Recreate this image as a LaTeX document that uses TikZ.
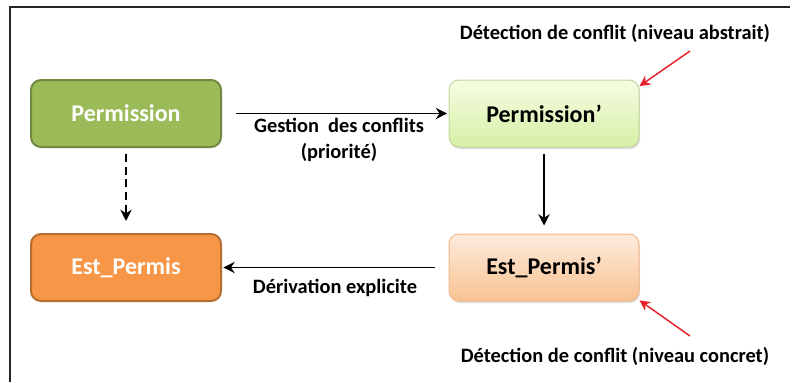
\documentclass[tikz,border=0pt]{standalone}
\usepackage{fontspec}
\setmainfont{Carlito}
\usetikzlibrary{arrows.meta,shadows}
\definecolor{vertfonce}{HTML}{9BBB59}
\definecolor{vertbord}{HTML}{71893F}
\definecolor{orangefonce}{HTML}{F79646}
\definecolor{orangebord}{HTML}{B66D31}
\definecolor{vertclair}{HTML}{F6FDE3}
\definecolor{vertclairbas}{HTML}{D6EFA6}
\definecolor{vertclairbord}{HTML}{C3D69B}
\definecolor{orangeclair}{HTML}{FDEBDD}
\definecolor{orangeclairbas}{HTML}{F9C291}
\definecolor{orangeclairbord}{HTML}{F2B98A}
\definecolor{rougefleche}{HTML}{E8202A}
\tikzset{
  boite/.style={rounded corners=7.5pt, minimum width=142.5pt, minimum height=50.25pt,
    font=\fontsize{18}{21}\selectfont\bfseries},
  boitefonce/.style={boite, line width=1.5pt, text=white},
  boiteclaire/.style={boite, line width=0.75pt,
    drop shadow={shadow xshift=0.8pt, shadow yshift=-1.5pt, fill=black!30, opacity=0.45}},
  fleche/.style={-{Stealth[length=8.5pt,width=8.5pt,inset=2.8pt]}, line width=1.25pt},
  flecherouge/.style={-{Stealth[length=8pt,width=8pt,inset=2.6pt]}, line width=1.1pt, rougefleche},
  etiq/.style={font=\fontsize{15.3}{19}\selectfont\bfseries},
}
\begin{document}
\begin{tikzpicture}[x=0.75pt,y=-0.75pt]
\useasboundingbox (0,0) rectangle (795,382);
\draw[line width=1pt, black!85] (10,382) -- (10,7) -- (790,7);

\node[boitefonce, fill=vertfonce, draw=vertbord] (perm) at (126,113.5) {Permission};
\node[boiteclaire, top color=vertclair, bottom color=vertclairbas, draw=vertclairbord] (permp) at (544,113.5) {Permission’};
\node[boitefonce, fill=orangefonce, draw=orangebord] (est) at (126,267.5) {Est\_Permis};
\node[boiteclaire, top color=orangeclair, bottom color=orangeclairbas, draw=orangeclairbord] (estp) at (544,267.5) {Est\_Permis’};

\draw[fleche, shorten <=10.5pt, shorten >=1pt] (perm.east) -- (permp.west);
\node[etiq, align=center] (gestion) at (339,140) {Gestion\ \ des conflits\\(priorité)};
\draw[fleche, dashed, dash pattern=on 6pt off 3.5pt, shorten <=4.5pt, shorten >=9pt] (perm.south) -- (est.north);
\draw[fleche, shorten <=4.5pt, shorten >=6pt] (permp.south) -- (estp.north);
\draw[fleche, shorten <=10.5pt, shorten >=1pt] (estp.west) -- (est.east);
\node[etiq] (derivation) at (335,288) {Dérivation explicite};

\node[etiq] (abstrait) at (615,33) {Détection de conflit (niveau abstrait)};
\coordinate (pa) at (690,51);
\draw[flecherouge] (pa) -- (permp.16);
\node[etiq] (concret) at (615,356) {Détection de conflit (niveau concret)};
\coordinate (pc) at (690,336);
\draw[flecherouge] (pc) -- (estp.-19);
\end{tikzpicture}
\end{document}
